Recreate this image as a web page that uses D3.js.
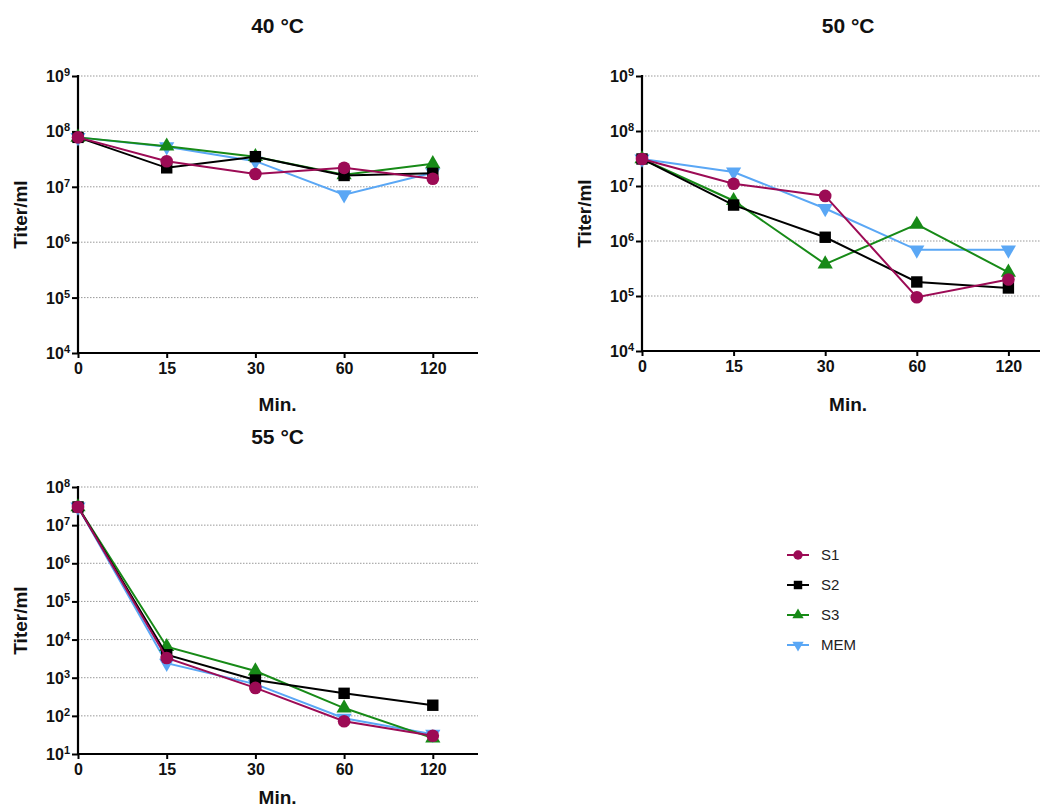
<!doctype html>
<html>
<head>
<meta charset="utf-8">
<script src="https://d3js.org/d3.v7.min.js"></script>
<style>
  body { margin: 0; background: #fff; }
  text { font-family: "Liberation Sans", Arial, sans-serif; }
</style>
</head>
<body>
<svg id="chart" width="1040" height="810"></svg>
<script>
// categories and series
var minutes = ["0", "15", "30", "60", "120"];
var seriesNames = ["S1", "S2", "S3", "MEM"];

// 40 °C
var t40_S1 = [7.8e7, 2.9e7, 1.7e7, 2.2e7, 1.4e7];
var t40_S2 = [7.8e7, 2.2e7, 3.5e7, 1.6e7, 1.75e7];
var t40_S3 = [7.8e7, 5.4e7, 3.5e7, 1.65e7, 2.6e7];
var t40_MEM = [7.8e7, 5.3e7, 2.9e7, 7.2e6, 1.8e7];

// 50 °C
var t50_S1 = [3.1e7, 1.1e7, 6.6e6, 9.5e4, 2.0e5];
var t50_S2 = [3.1e7, 4.5e6, 1.17e6, 1.8e5, 1.4e5];
var t50_S3 = [3.1e7, 5.4e6, 3.8e5, 2.0e6, 2.7e5];
var t50_MEM = [3.1e7, 1.8e7, 3.9e6, 6.9e5, 6.9e5];

// 55 °C
var t55_S1 = [3.0e7, 3.3e3, 540, 72, 30];
var t55_S2 = [3.0e7, 4.0e3, 870, 390, 190];
var t55_S3 = [3.0e7, 6.5e3, 1.5e3, 160, 26];
var t55_MEM = [3.0e7, 2.4e3, 680, 87, 33];

var decades40 = [1e4, 1e5, 1e6, 1e7, 1e8, 1e9];
var decades55 = [1e1, 1e2, 1e3, 1e4, 1e5, 1e6, 1e7, 1e8];

var colors = { S1: "#9c0b55", S2: "#000000", S3: "#178a17", MEM: "#5aa7f5" };
var symbols = {
  S1: { type: d3.symbolCircle, size: 125, rot: 0 },
  S2: { type: d3.symbolSquare, size: 130, rot: 0 },
  S3: { type: d3.symbolTriangle, size: 100, rot: 0 },
  MEM: { type: d3.symbolTriangle, size: 100, rot: 180 }
};

var svg = d3.select("#chart");

var panels = [
  { title: "40 °C", left: 78, right: 478, top: 76, bottom: 353, step: 88.7,
    ticks: decades40, data: { S1: t40_S1, S2: t40_S2, S3: t40_S3, MEM: t40_MEM }, minY: 411 },
  { title: "50 °C", left: 642, right: 1045, top: 76, bottom: 351, step: 91.6,
    ticks: decades40, data: { S1: t50_S1, S2: t50_S2, S3: t50_S3, MEM: t50_MEM }, minY: 411 },
  { title: "55 °C", left: 78, right: 478, top: 487, bottom: 754, step: 88.7,
    ticks: decades55, data: { S1: t55_S1, S2: t55_S2, S3: t55_S3, MEM: t55_MEM }, minY: 804 }
];

panels.forEach(function(p) {
  var g = svg.append("g");
  var x = d3.scalePoint().domain(minutes).range([p.left, p.left + 4 * p.step]);
  var y = d3.scaleLog().domain([p.ticks[0], p.ticks[p.ticks.length - 1]]).range([p.bottom, p.top]);
  var cx = (p.left + p.left + 4.5 * p.step) / 2;

  // grid
  g.selectAll(".grid").data(p.ticks.slice(1)).enter().append("line")
    .attr("x1", p.left).attr("x2", p.right)
    .attr("y1", function(d) { return y(d); }).attr("y2", function(d) { return y(d); })
    .attr("stroke", "#999").attr("stroke-width", 1).attr("stroke-dasharray", "1.5,1.5");

  // y axis
  var ya = g.append("g").attr("transform", "translate(" + p.left + ",0)")
    .call(d3.axisLeft(y).tickValues(p.ticks).tickSize(6).tickFormat(""));
  ya.select(".domain").remove();
  ya.selectAll(".tick line").attr("stroke", "#000").attr("stroke-width", 2);
  g.append("line").attr("x1", p.left).attr("x2", p.left).attr("y1", p.top - 1).attr("y2", p.bottom + 1)
    .attr("stroke", "#000").attr("stroke-width", 2.2);

  var lab = g.selectAll(".ylab").data(p.ticks).enter().append("text")
    .attr("x", p.left - 8).attr("y", function(d) { return y(d) + 6; })
    .attr("text-anchor", "end").attr("font-size", 16).attr("font-weight", "bold").attr("fill", "#111");
  lab.append("tspan").text("10");
  lab.append("tspan").attr("dy", -6).attr("font-size", 11).text(function(d) { return Math.round(Math.log10(d)); });

  // x axis
  var xa = g.append("g").attr("transform", "translate(0," + p.bottom + ")")
    .call(d3.axisBottom(x).tickSize(5).tickPadding(5));
  xa.select(".domain").remove();
  xa.selectAll(".tick line").attr("stroke", "#000").attr("stroke-width", 2);
  xa.selectAll(".tick text").attr("font-size", 16).attr("font-weight", "bold").attr("fill", "#111")
    .attr("font-family", "Liberation Sans, Arial, sans-serif");
  g.append("line").attr("x1", p.left - 1).attr("x2", p.right).attr("y1", p.bottom).attr("y2", p.bottom)
    .attr("stroke", "#000").attr("stroke-width", 2.2);

  // titles
  g.append("text").attr("x", cx).attr("y", p.top - 43).attr("text-anchor", "middle")
    .attr("font-size", 21).attr("font-weight", "bold").attr("fill", "#111").text(p.title);
  g.append("text").attr("x", cx).attr("y", p.minY).attr("text-anchor", "middle")
    .attr("font-size", 19).attr("font-weight", "bold").attr("fill", "#111").text("Min.");
  g.append("text").attr("transform", "translate(" + (p.left - 51) + "," + ((p.top + p.bottom) / 2) + ") rotate(-90)")
    .attr("text-anchor", "middle").attr("font-size", 19).attr("font-weight", "bold").attr("fill", "#111")
    .text("Titer/ml");

  // series, drawn so S1 ends on top
  var line = d3.line().x(function(d, i) { return x(minutes[i]); }).y(function(d) { return y(d); });
  seriesNames.slice().reverse().forEach(function(s) {
    var vals = p.data[s];
    g.append("path").datum(vals).attr("d", line).attr("fill", "none")
      .attr("stroke", colors[s]).attr("stroke-width", 2);
    g.selectAll(".m" + s).data(vals).enter().append("path")
      .attr("d", d3.symbol().type(symbols[s].type).size(symbols[s].size))
      .attr("transform", function(d, i) {
        return "translate(" + x(minutes[i]) + "," + y(d) + ") rotate(" + symbols[s].rot + ")";
      })
      .attr("fill", colors[s]);
  });
});

// legend
var lg = svg.append("g").attr("transform", "translate(787,555)");
seriesNames.forEach(function(s, i) {
  var row = lg.append("g").attr("transform", "translate(0," + (i * 30) + ")");
  row.append("line").attr("x1", 0).attr("x2", 22).attr("stroke", colors[s]).attr("stroke-width", 2);
  row.append("path").attr("d", d3.symbol().type(symbols[s].type).size(symbols[s].size * 0.55))
    .attr("transform", "translate(11,0) rotate(" + symbols[s].rot + ")").attr("fill", colors[s]);
  row.append("text").attr("x", 34).attr("y", 5).attr("font-size", 15).attr("fill", "#222").text(s);
});
</script>
</body>
</html>
